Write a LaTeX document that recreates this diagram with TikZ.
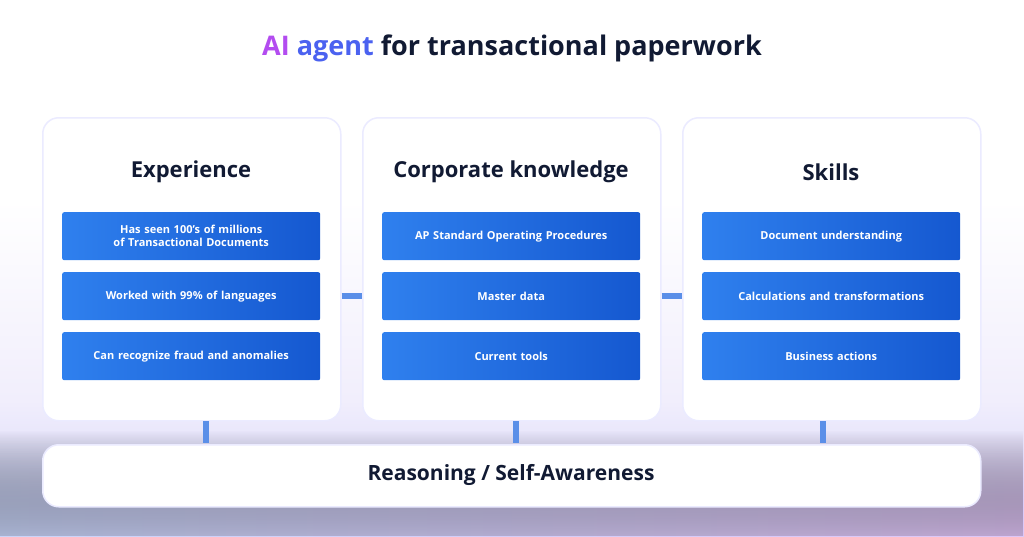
\documentclass[tikz,border=0pt]{standalone}
\usepackage{fontspec}
\setmainfont{Open Sans}
\usetikzlibrary{fadings}
\definecolor{navy}{HTML}{111A33}
\definecolor{bA}{HTML}{2F80EE}
\definecolor{bB}{HTML}{1558D0}
\definecolor{purp}{HTML}{B34CF0}
\definecolor{blu}{HTML}{4B62F0}
\definecolor{bar}{HTML}{5B8FE8}
\definecolor{bgA}{HTML}{C9D6FA}
\definecolor{bgB}{HTML}{E2C4F7}
\definecolor{bgM}{HTML}{F1EEFC}
\tikzset{
 card/.style={draw=blue!8,line width=1.5pt,fill=white,rounded corners=16pt,minimum width=298pt,minimum height=303pt,anchor=north west},
 item/.style={rounded corners=2pt,left color=bA,right color=bB,text=white,minimum width=258pt,minimum height=48pt,anchor=north west,align=center,font=\fontsize{11}{13}\selectfont\bfseries,text width=250pt},
 head/.style={font=\fontsize{22}{26}\selectfont\bfseries,text=navy},
 link/.style={bar,line width=6pt}
}
\begin{document}
\begin{tikzpicture}[x=1pt,y=-1pt]
\useasboundingbox (0,0) rectangle (1024,536);
\fill[white] (0,0) rectangle (1024,536);
\fill[top color=white,bottom color=bgM] (0,200) rectangle (1024,400);
\fill[top color=bgM,bottom color=bgA!70!bgB] (0,400) rectangle (1024,536);
\fill[left color=bgA,right color=bgB,path fading=north,opacity=0.8] (0,430) rectangle (1024,536);
\node[font=\fontsize{27}{30}\selectfont\bfseries,text=navy] (title) at (512,48) {\textcolor{purp}{AI} \textcolor{blu}{agent} for transactional paperwork};
\foreach \n/\x in {a/42,b/362,c/682}{
  \node[card] (\n) at (\x,117) {};
}
\draw[link] (a.east|-0,296) -- (b.west|-0,296);
\draw[link] (b.east|-0,296) -- (c.west|-0,296);
\node[head] (ha) at (191,172) {Experience};
\node[head] (hb) at (511,172) {Corporate knowledge};
\node[head] (hc) at (831,172) {Skills};
\node[item] (a1) at (62,212) {Has seen 100’s of millions of Transactional Documents};
\node[item] (a2) at (62,272) {Worked with 99\% of languages};
\node[item] (a3) at (62,332) {Can recognize fraud and anomalies};
\node[item] (b1) at (382,212) {AP Standard Operating Procedures};
\node[item] (b2) at (382,272) {Master data};
\node[item] (b3) at (382,332) {Current tools};
\node[item] (c1) at (702,212) {Document understanding};
\node[item] (c2) at (702,272) {Calculations and transformations};
\node[item] (c3) at (702,332) {Business actions};
\node[draw=blue!8,line width=1.5pt,fill=white,rounded corners=16pt,minimum width=938pt,minimum height=62pt,anchor=north west] (r) at (42,444) {};
\node[head,font=\fontsize{21}{25}\selectfont\bfseries] (rt) at (511,475) {Reasoning / Self-Awareness};
\foreach \x in {206,516,823}{
  \draw[link] (\x,421) -- (\x,443);
}
\end{tikzpicture}
\end{document}
